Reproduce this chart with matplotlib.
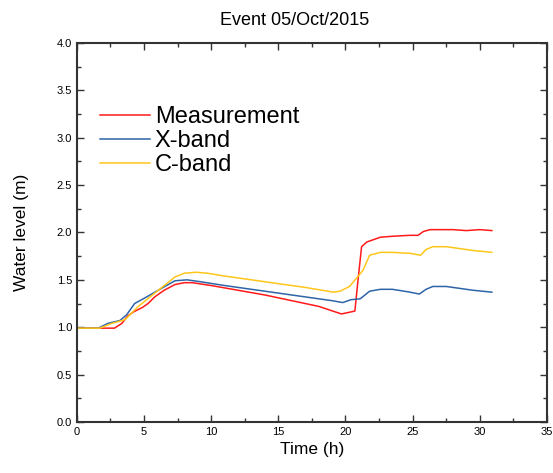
import matplotlib
matplotlib.use("Agg")
import matplotlib.pyplot as plt
from matplotlib.ticker import MultipleLocator

plt.rcParams['font.family'] = ['Liberation Sans', 'DejaVu Sans']

meas_t = [0, 1.0, 2.0, 2.8, 3.35, 3.8, 4.2, 4.9, 5.3, 5.8, 6.5, 7.3, 8.0, 8.6, 10, 12, 14, 16, 18, 19.7, 20.7, 20.9, 21.2, 21.6, 22.0, 22.6, 23.5, 24.8, 25.4, 25.8, 26.3, 27, 28, 29, 30, 30.9]
meas_v = [0.99, 0.99, 0.99, 0.99, 1.04, 1.12, 1.16, 1.21, 1.25, 1.32, 1.39, 1.45, 1.47, 1.47, 1.44, 1.39, 1.34, 1.28, 1.22, 1.14, 1.17, 1.45, 1.85, 1.90, 1.92, 1.95, 1.96, 1.97, 1.97, 2.01, 2.03, 2.03, 2.03, 2.02, 2.03, 2.02]

xb_t = [0, 1.0, 1.6, 2.3, 3.2, 3.7, 4.3, 5.2, 6.3, 7.3, 8.2, 9.2, 11, 13, 15, 17, 19, 19.8, 20.4, 21.1, 21.8, 22.6, 23.5, 24.8, 25.5, 26.0, 26.5, 27.5, 28.5, 29.5, 30.9]
xb_v = [0.99, 0.99, 0.99, 1.04, 1.07, 1.13, 1.25, 1.32, 1.41, 1.49, 1.50, 1.48, 1.44, 1.40, 1.36, 1.32, 1.28, 1.26, 1.29, 1.30, 1.38, 1.40, 1.40, 1.37, 1.35, 1.40, 1.43, 1.43, 1.41, 1.39, 1.37]

cb_t = [0, 1.0, 1.7, 2.6, 3.6, 4.5, 5.8, 7.3, 8.0, 8.9, 9.7, 11, 13, 15, 17, 19.1, 19.6, 20.3, 20.9, 21.3, 21.8, 22.6, 23.5, 24.8, 25.6, 26.0, 26.5, 27.5, 28.5, 29.5, 30.9]
cb_v = [0.99, 0.99, 0.99, 1.04, 1.08, 1.21, 1.36, 1.53, 1.57, 1.58, 1.57, 1.54, 1.50, 1.46, 1.42, 1.37, 1.38, 1.43, 1.53, 1.60, 1.76, 1.79, 1.79, 1.78, 1.76, 1.82, 1.85, 1.85, 1.83, 1.81, 1.79]

fig = plt.figure(figsize=(5.53, 4.73), dpi=100)
ax = fig.add_axes([0.139, 0.108, 0.850, 0.801])

ax.plot(meas_t, meas_v, color='#FF1A1A', lw=1.1, label='Measurement')
ax.plot(xb_t, xb_v, color='#2E65A8', lw=1.1, label='X-band')
ax.plot(cb_t, cb_v, color='#FFC61A', lw=1.1, label='C-band')

ax.set_xlim(0, 35)
ax.set_ylim(0, 4.0)
ax.xaxis.set_major_locator(MultipleLocator(5))
ax.xaxis.set_minor_locator(MultipleLocator(2.5))
ax.yaxis.set_major_locator(MultipleLocator(0.5))
ax.yaxis.set_minor_locator(MultipleLocator(0.25))
ax.yaxis.set_major_formatter(matplotlib.ticker.FormatStrFormatter('%.1f'))
ax.tick_params(which='both', direction='in', top=True, right=True, color='#333333', labelsize=8)
ax.tick_params(which='major', length=5, width=1)
ax.tick_params(which='minor', length=3, width=1)
for s in ax.spines.values():
    s.set_linewidth(1.5)
    s.set_color('#333333')

ax.set_xlabel('Time (h)', fontsize=12.5, labelpad=4)
ax.set_ylabel('Water level (m)', fontsize=12.5, labelpad=20)
fig.text(0.532, 0.957, 'Event 05/Oct/2015', ha='center', va='center', fontsize=13)

leg = ax.legend(loc='upper left', bbox_to_anchor=(0.03, 0.859), fontsize=17, frameon=False,
                handlelength=2.1, handletextpad=0.2, labelspacing=0.085, borderaxespad=0)

fig.savefig('out.png', dpi=100)
